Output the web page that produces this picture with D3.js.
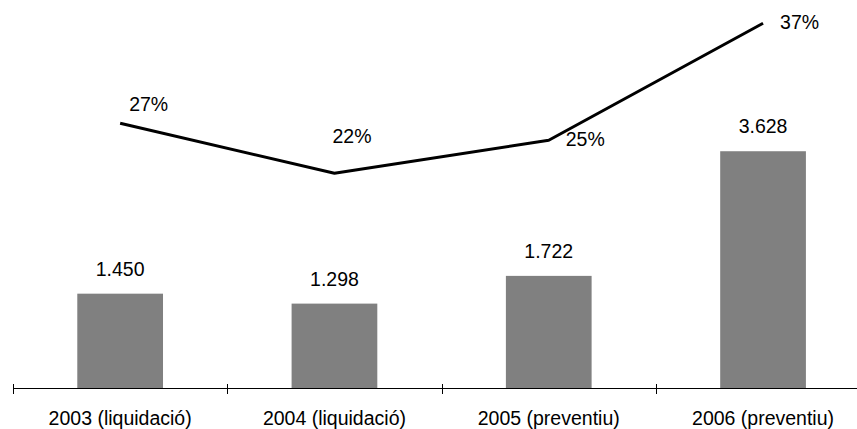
<!DOCTYPE html>
<html>
<head>
<meta charset="utf-8">
<script src="https://cdn.jsdelivr.net/npm/d3@7"></script>
<style>
  html, body { margin: 0; padding: 0; background: #fff; }
  svg { display: block; font-family: "Liberation Sans", Arial, sans-serif; }
</style>
</head>
<body>
<svg id="chart" width="857" height="429"></svg>
<script>
// Data
const categories = ["2003 (liquidació)", "2004 (liquidació)", "2005 (preventiu)", "2006 (preventiu)"];
const barValues = [1450, 1298, 1722, 3628];
const pctValues = [0.27, 0.22, 0.253, 0.37];

// Layout constants (label offsets relative to the line points)
const pctLabelDx = [9, -2, 17, 17];
const pctLabelDy = [-12, -30, 6, 6];

const W = 857, H = 429;
const svg = d3.select("#chart");

const axisY = 388.5;
const x = d3.scaleBand()
  .domain(categories)
  .range([13, 870.2])
  .paddingInner(0.6)
  .paddingOuter(0.3);

const yBar = d3.scaleLinear().domain([0, 4000]).range([axisY, axisY - 4000 * 0.0654]);
const yPct = d3.scaleLinear().domain([0, 0.4]).range([393.3, 393.3 - 400]);

const numFmt = d3.formatLocale({ decimal: ",", thousands: ".", grouping: [3], currency: ["", "€"] }).format(",d");
const pctFmt = d3.format(".0%");

// Bars
svg.append("g").selectAll("rect")
  .data(barValues)
  .join("rect")
  .attr("x", (d, i) => x(categories[i]))
  .attr("y", d => yBar(d))
  .attr("width", x.bandwidth())
  .attr("height", d => yBar(0) - yBar(d))
  .attr("fill", "#808080");

// Bar labels
svg.append("g").selectAll("text")
  .data(barValues)
  .join("text")
  .attr("x", (d, i) => x(categories[i]) + x.bandwidth() / 2)
  .attr("y", d => yBar(d) - 18)
  .attr("text-anchor", "middle")
  .attr("font-size", "19.5px")
  .attr("fill", "#000")
  .text(d => numFmt(d));

// Axis line
const step = x.step();
const axisG = svg.append("g");
axisG.append("line")
  .attr("x1", 13).attr("x2", 870.2)
  .attr("y1", axisY).attr("y2", axisY)
  .attr("stroke", "#000").attr("stroke-width", 1);

const tickPositions = d3.range(categories.length + 1).map(i => x(categories[0]) - step * x.paddingOuter() + i * step);
axisG.selectAll("line.tick")
  .data(tickPositions)
  .join("line")
  .attr("class", "tick")
  .attr("x1", d => Math.round(d) + 0.5).attr("x2", d => Math.round(d) + 0.5)
  .attr("y1", axisY - 4.5).attr("y2", axisY + 5.5)
  .attr("stroke", "#000").attr("stroke-width", 1);

// Category labels
axisG.selectAll("text")
  .data(categories)
  .join("text")
  .attr("x", d => x(d) + x.bandwidth() / 2)
  .attr("y", 425)
  .attr("text-anchor", "middle")
  .attr("font-size", "19.5px")
  .attr("fill", "#000")
  .text(d => d);

// Line
const cx = (i) => x(categories[i]) + x.bandwidth() / 2;
const line = d3.line()
  .x((d, i) => cx(i))
  .y(d => yPct(d));

svg.append("path")
  .datum(pctValues)
  .attr("d", line)
  .attr("fill", "none")
  .attr("stroke", "#000")
  .attr("stroke-width", 3)
  .attr("stroke-linejoin", "round");

// Line labels
svg.append("g").selectAll("text")
  .data(pctValues)
  .join("text")
  .attr("x", (d, i) => cx(i) + pctLabelDx[i])
  .attr("y", (d, i) => yPct(d) + pctLabelDy[i])
  .attr("font-size", "19.5px")
  .attr("fill", "#000")
  .text(d => pctFmt(d));
</script>
</body>
</html>
